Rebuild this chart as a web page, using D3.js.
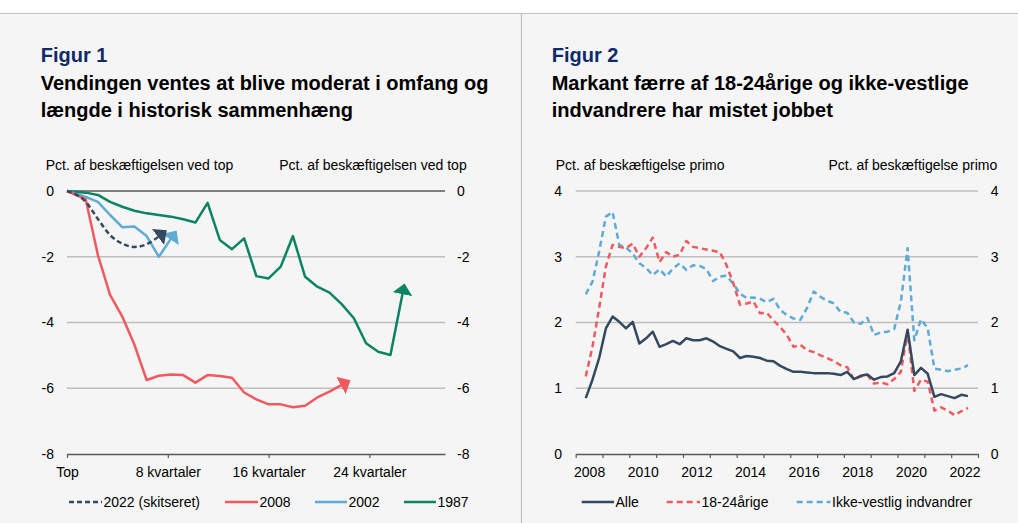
<!DOCTYPE html>
<html>
<head>
<meta charset="utf-8">
<script src="https://cdn.jsdelivr.net/npm/d3@7"></script>
<style>
  body { margin: 0; background: #fff; }
  svg { display: block; font-family: "Liberation Sans", Arial, sans-serif; }
</style>
</head>
<body>
<svg id="chart" width="1018" height="523"></svg>
<script>
// Figur 1: kvartaler efter top (0 = top)
var kvartalTicks = [0, 8, 16, 24];
var s2022 = [0, -0.33, -0.85, -1.34, -1.6, -1.7, -1.62, -1.38];
var s2008 = [0, -0.25, -1.95, -3.16, -3.82, -4.68, -5.75, -5.62, -5.58, -5.6, -5.83, -5.6,
  -5.63, -5.68, -6.13, -6.34, -6.49, -6.49, -6.58, -6.53, -6.28, -6.1, -5.9];
var s2002 = [0, -0.18, -0.33, -0.73, -1.1, -1.08, -1.37, -2.0, -1.45];
var s1987 = [0, -0.05, -0.12, -0.33, -0.48, -0.6, -0.68, -0.73, -0.78, -0.86, -0.96, -0.36,
  -1.49, -1.77, -1.44, -2.59, -2.66, -2.30, -1.37, -2.61, -2.91, -3.09, -3.44, -3.87,
  -4.63, -4.89, -4.99, -3.11];
var fig1Ticks = [0, -2, -4, -6, -8];

// Figur 2: kvartalsdata fra 2008K2 til 2022K3
var startYear = 2008, startQuarter = 2;
var alle = [0.85, 1.13, 1.46, 1.91, 2.09, 2.01, 1.91, 2.01, 1.68, 1.76, 1.86, 1.63, 1.67,
  1.72, 1.67, 1.76, 1.73, 1.73, 1.76, 1.71, 1.64, 1.60, 1.56, 1.46, 1.49, 1.48, 1.46, 1.42,
  1.41, 1.34, 1.29, 1.25, 1.25, 1.24, 1.23, 1.23, 1.23, 1.22, 1.20, 1.25, 1.14, 1.19, 1.21,
  1.13, 1.17, 1.18, 1.23, 1.41, 1.89, 1.20, 1.31, 1.22, 0.87, 0.91, 0.88, 0.85, 0.90, 0.88];
var unge = [1.18, 1.63, 2.22, 2.85, 3.18, 3.15, 3.13, 3.20, 3.0, 3.13, 3.29, 2.92, 3.07,
  3.0, 3.03, 3.24, 3.15, 3.13, 3.11, 3.09, 3.07, 2.87, 2.6, 2.27, 2.29, 2.32, 2.14, 2.15,
  2.03, 1.93, 1.81, 1.63, 1.66, 1.58, 1.55, 1.50, 1.46, 1.41, 1.35, 1.32, 1.13, 1.18, 1.20,
  1.07, 1.09, 1.06, 1.14, 1.25, 1.86, 0.96, 1.13, 1.10, 0.66, 0.71, 0.66, 0.59, 0.65, 0.70];
var ikkeVestlig = [2.43, 2.62, 3.08, 3.61, 3.68, 3.18, 3.14, 3.05, 2.90, 2.83, 2.72, 2.81,
  2.70, 2.82, 2.90, 2.80, 2.87, 2.86, 2.81, 2.63, 2.70, 2.71, 2.59, 2.44, 2.37, 2.38, 2.36,
  2.31, 2.36, 2.19, 2.11, 2.06, 2.04, 2.22, 2.47, 2.39, 2.33, 2.29, 2.16, 2.15, 2.00, 1.98,
  2.07, 1.81, 1.85, 1.86, 1.90, 2.32, 3.13, 1.73, 2.05, 1.91, 1.30, 1.28, 1.26, 1.28, 1.30, 1.35];
var yearLabels = [2008, 2010, 2012, 2014, 2016, 2018, 2020, 2022];
var fig2Ticks = [0, 1, 2, 3, 4];

var mørk = "#34495e", rød = "#f0595f", blå = "#5eabd3", grøn = "#0a8462";
var gridColor = "#bfbfbf", axisColor = "#595959";

var svg = d3.select("#chart");

// baggrund
svg.append("rect").attr("x", 0).attr("y", 13).attr("width", 1018).attr("height", 510).attr("fill", "#f5f5f5");
svg.append("line").attr("x1", 0).attr("x2", 1018).attr("y1", 13.5).attr("y2", 13.5).attr("stroke", gridColor).attr("stroke-width", 1.2);
svg.append("line").attr("x1", 521.5).attr("x2", 521.5).attr("y1", 13).attr("y2", 523).attr("stroke", gridColor).attr("stroke-width", 1.2);

// pile
var defs = svg.append("defs");
[["pil-mork", mørk], ["pil-rod", rød], ["pil-bla", blå], ["pil-gron", grøn]].forEach(function (p) {
  defs.append("marker")
    .attr("id", p[0])
    .attr("viewBox", "0 -10 11 20")
    .attr("refX", 1)
    .attr("refY", 0)
    .attr("markerUnits", "userSpaceOnUse")
    .attr("markerWidth", 11)
    .attr("markerHeight", 20)
    .attr("orient", "auto")
    .append("path")
    .attr("d", "M0,-10L11,0L0,10Z")
    .attr("fill", p[1]);
});

function titles(x, nr, line1, line2) {
  svg.append("text").attr("x", x).attr("y", 62).attr("font-size", 20).attr("font-weight", "bold")
    .attr("fill", "#0f2a6b").text("Figur " + nr);
  svg.append("text").attr("x", x).attr("y", 90).attr("font-size", 20).attr("font-weight", "bold")
    .attr("fill", "#000").text(line1);
  svg.append("text").attr("x", x).attr("y", 117).attr("font-size", 20).attr("font-weight", "bold")
    .attr("fill", "#000").text(line2);
}

function legend(items, y) {
  items.forEach(function (it) {
    svg.append("line").attr("x1", it.x1).attr("x2", it.x2).attr("y1", y).attr("y2", y)
      .attr("stroke", it.color).attr("stroke-width", 2.5)
      .attr("stroke-dasharray", it.dash || null);
    svg.append("text").attr("x", it.x2 + 1.5).attr("y", y).attr("dy", "0.35em")
      .attr("font-size", 14).attr("fill", "#000").text(it.label);
  });
}

function yLabels(scale, ticks, x, left) {
  var ax = (left ? d3.axisLeft(scale) : d3.axisRight(scale))
    .tickValues(ticks).tickSize(0).tickPadding(0)
    .tickFormat(function (d) { return String(d); });
  var g = svg.append("g").attr("transform", "translate(" + x + ",0)").call(ax);
  g.select(".domain").remove();
  g.selectAll("text").attr("font-size", 14).attr("fill", "#000");
  g.attr("font-family", null);
}

function styleAxis(g) {
  g.attr("font-family", null);
  g.select(".domain").attr("stroke", axisColor).attr("stroke-width", 1.5);
  g.selectAll(".tick line").attr("stroke", axisColor).attr("stroke-width", 1.2);
  g.selectAll("text").attr("font-size", 14).attr("fill", "#000");
}

// ---------------- Figur 1 ----------------
titles(40.7, 1, "Vendingen ventes at blive moderat i omfang og", "længde i historisk sammenhæng");

var x1 = d3.scaleLinear().domain([0, 30]).range([67, 445]);
// dataserierne ligger på en sekundær kategoriakse med lidt andet skridt
var xq = d3.scaleLinear().domain([0, 1, 30]).range([67, 85.7, 439.2]);
var y1 = d3.scaleLinear().domain([-8, 0]).range([454, 191]);

svg.append("text").attr("x", 45.7).attr("y", 170).attr("font-size", 14).text("Pct. af beskæftigelsen ved top");
svg.append("text").attr("x", 466.7).attr("y", 170).attr("font-size", 14).attr("text-anchor", "end").text("Pct. af beskæftigelsen ved top");

svg.append("g").selectAll("line").data([-2, -4, -6]).enter().append("line")
  .attr("x1", 67).attr("x2", 445)
  .attr("y1", function (d) { return y1(d); }).attr("y2", function (d) { return y1(d); })
  .attr("stroke", gridColor).attr("stroke-width", 1.3);
svg.append("line").attr("x1", 67).attr("x2", 445).attr("y1", y1(0)).attr("y2", y1(0))
  .attr("stroke", axisColor).attr("stroke-width", 1.5);

var gx1 = svg.append("g").attr("transform", "translate(0," + y1(-8) + ")")
  .call(d3.axisBottom(x1).tickValues(kvartalTicks).tickSize(4).tickSizeOuter(0).tickPadding(9)
    .tickFormat(function (d) { return d === 0 ? "Top" : d + " kvartaler"; }));
styleAxis(gx1);

yLabels(y1, fig1Ticks, 54, true);
yLabels(y1, fig1Ticks, 457, false);

var line1 = d3.line().x(function (d, i) { return xq(i); }).y(function (d) { return y1(d); });
var curve1 = d3.line().x(function (d, i) { return xq(i); }).y(function (d) { return y1(d); }).curve(d3.curveMonotoneX);

[
  { data: s1987, color: grøn, marker: "pil-gron", gen: line1 },
  { data: s2002, color: blå, marker: "pil-bla", gen: line1 },
  { data: s2008, color: rød, marker: "pil-rod", gen: line1 },
  { data: s2022, color: mørk, marker: "pil-mork", gen: curve1, dash: "5,3" }
].forEach(function (s) {
  svg.append("path").datum(s.data)
    .attr("d", s.gen)
    .attr("fill", "none")
    .attr("stroke", s.color)
    .attr("stroke-width", 2.5)
    .attr("stroke-linejoin", "round")
    .attr("stroke-dasharray", s.dash || null)
    .attr("marker-end", "url(#" + s.marker + ")");
});

legend([
  { x1: 69, x2: 102, color: mørk, dash: "5,3", label: "2022 (skitseret)" },
  { x1: 225, x2: 258, color: rød, label: "2008" },
  { x1: 315, x2: 347, color: blå, label: "2002" },
  { x1: 404, x2: 436, color: grøn, label: "1987" }
], 502);

// ---------------- Figur 2 ----------------
titles(551.7, 2, "Markant færre af 18-24årige og ikke-vestlige", "indvandrere har mistet jobbet");

var x2 = d3.scaleLinear().domain([2008, 2023]).range([575.7, 978]);
var y2 = d3.scaleLinear().domain([0, 4]).range([454, 191]);

function quarterTime(i) {
  var q = startQuarter - 1 + i;
  return startYear + Math.floor(q / 4) + ((q % 4) + 0.5) / 4;
}

svg.append("text").attr("x", 555.7).attr("y", 170).attr("font-size", 14).text("Pct. af beskæftigelse primo");
svg.append("text").attr("x", 997.3).attr("y", 170).attr("font-size", 14).attr("text-anchor", "end").text("Pct. af beskæftigelse primo");

svg.append("g").selectAll("line").data([1, 2, 3, 4]).enter().append("line")
  .attr("x1", 575.7).attr("x2", 978)
  .attr("y1", function (d) { return y2(d); }).attr("y2", function (d) { return y2(d); })
  .attr("stroke", gridColor).attr("stroke-width", 1.3);

var gx2 = svg.append("g").attr("transform", "translate(0," + y2(0) + ")")
  .call(d3.axisBottom(x2).tickValues(d3.range(2008, 2024)).tickSize(4).tickSizeOuter(0).tickFormat(""));
styleAxis(gx2);
var gx2l = svg.append("g").attr("transform", "translate(0," + y2(0) + ")")
  .call(d3.axisBottom(x2).tickValues(yearLabels.map(function (d) { return d + 0.5; }))
    .tickSize(0).tickPadding(13).tickFormat(function (d) { return Math.floor(d); }));
gx2l.select(".domain").remove();
styleAxis(gx2l);

yLabels(y2, fig2Ticks, 562, true);
yLabels(y2, fig2Ticks, 990.7, false);

var line2 = d3.line().x(function (d, i) { return x2(quarterTime(i)); }).y(function (d) { return y2(d); });

[
  { data: ikkeVestlig, color: blå, dash: "6,4" },
  { data: unge, color: rød, dash: "6,4" },
  { data: alle, color: mørk }
].forEach(function (s) {
  svg.append("path").datum(s.data)
    .attr("d", line2)
    .attr("fill", "none")
    .attr("stroke", s.color)
    .attr("stroke-width", 2.5)
    .attr("stroke-linejoin", "round")
    .attr("stroke-dasharray", s.dash || null);
});

legend([
  { x1: 581.7, x2: 614, color: mørk, label: "Alle" },
  { x1: 666.7, x2: 700, color: rød, dash: "6,4", label: "18-24årige" },
  { x1: 796.7, x2: 830.5, color: blå, dash: "6,4", label: "Ikke-vestlig indvandrer" }
], 502);
</script>
</body>
</html>
